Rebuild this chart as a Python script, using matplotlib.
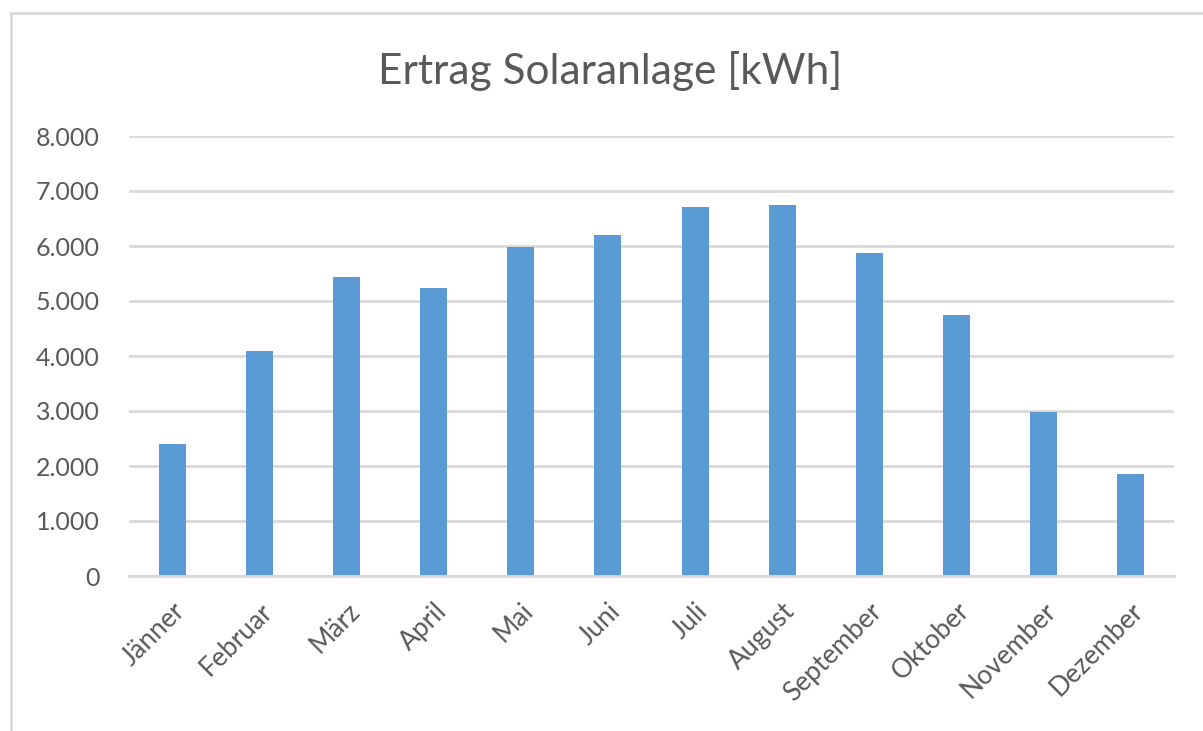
import matplotlib
matplotlib.use("Agg")
import matplotlib.pyplot as plt
from matplotlib.lines import Line2D
from matplotlib.ticker import FuncFormatter

months = ["Jänner", "Februar", "März", "April", "Mai", "Juni", "Juli",
          "August", "September", "Oktober", "November", "Dezember"]
ertrag = [2400, 4090, 5436, 5236, 5980, 6200, 6709, 6745, 5873, 4745, 2980, 1855]
yticks = [0, 1000, 2000, 3000, 4000, 5000, 6000, 7000, 8000]
title = "Ertrag Solaranlage [kWh]"

plt.rcParams['font.family'] = ['Lato', 'DejaVu Sans']
text_color = "#595959"
grid_color = "#D9D9D9"
bar_color = "#5B9BD5"

W, H = 1203, 731
fig = plt.figure(figsize=(W / 100, H / 100), dpi=100)
fig.patch.set_facecolor("white")

ax = fig.add_axes([129 / W, (H - 576) / H, (1174 - 129) / W, (576 - 136) / H])
x = list(range(len(months)))
ax.bar(x, ertrag, width=0.31, color=bar_color, zorder=3)
ax.set_xlim(-0.5, len(months) - 0.5)
ax.set_ylim(0, 8000)
ax.set_yticks(yticks)
ax.yaxis.set_major_formatter(FuncFormatter(lambda v, p: f"{int(v):,}".replace(",", ".")))
ax.grid(axis="y", color=grid_color, linewidth=2, zorder=0)
ax.set_axisbelow(True)
for s in ["top", "right", "left"]:
    ax.spines[s].set_visible(False)
ax.spines["bottom"].set_color(grid_color)
ax.spines["bottom"].set_linewidth(2)
ax.spines["bottom"].set_zorder(4)

ax.set_xticks(x)
ax.set_xticklabels(months, rotation=45, ha="right", rotation_mode="anchor",
                   fontsize=19, color=text_color)
ax.tick_params(axis="x", length=0, pad=16)
ax.tick_params(axis="y", length=0, pad=21, labelsize=18, labelcolor=text_color)

fig.text(610 / W, 1 - 71 / H, title, ha="center", va="center",
         fontsize=30.5, color=text_color)

# chart frame
fig.add_artist(Line2D([11 / W, 11 / W], [0, 1 - 13 / H], transform=fig.transFigure,
                      color=grid_color, linewidth=2))
fig.add_artist(Line2D([11 / W, 1], [1 - 13 / H, 1 - 13 / H], transform=fig.transFigure,
                      color=grid_color, linewidth=2))

fig.savefig("out.png", dpi=100)
